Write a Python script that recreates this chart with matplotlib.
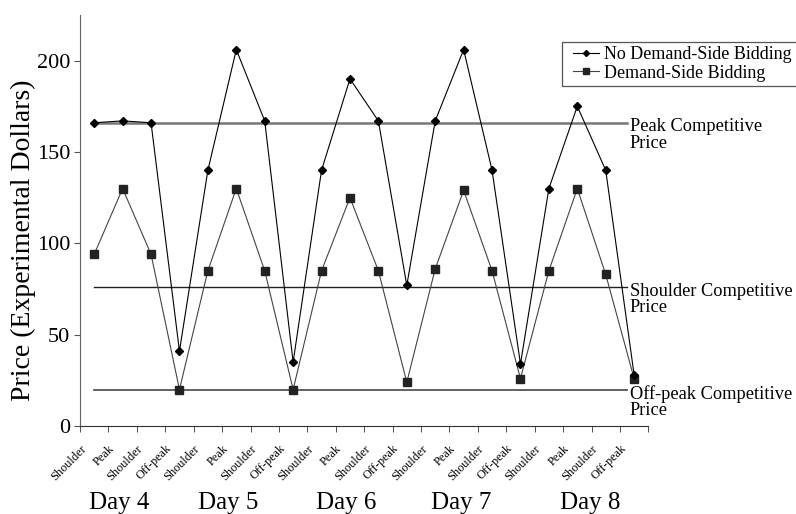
import matplotlib
matplotlib.use("Agg")
import matplotlib.pyplot as plt
import matplotlib.transforms as mtransforms
from matplotlib.patches import Rectangle

plt.rcParams["font.family"] = ["Liberation Serif", "DejaVu Serif"]

# --- Data ---
periods = ["Shoulder", "Peak", "Shoulder", "Off-peak"] * 5
days = ["Day 4", "Day 5", "Day 6", "Day 7", "Day 8"]

no_dsb = [166, 167, 166, 41,
          140, 206, 167, 35,
          140, 190, 167, 77,
          167, 206, 140, 34,
          130, 175, 140, 28]
dsb = [94, 130, 94, 20,
       85, 130, 85, 20,
       85, 125, 85, 24,
       86, 129, 85, 26,
       85, 130, 83, 26]

comp_labels = ["Peak Competitive\nPrice", "Shoulder Competitive\nPrice", "Off-peak Competitive\nPrice"]
comp_prices = [166, 76, 20]

# --- Figure ---
fig = plt.figure(figsize=(7.96, 5.14), dpi=100)
ax = fig.add_axes([0.1005, 0.171, 0.714, 0.800])

x = list(range(len(periods)))

# competitive price lines
line_end = 18.76
for lab, p, lw, col in zip(comp_labels, comp_prices, [1.8, 1.0, 1.3], ["#777777", "#222222", "#555555"]):
    ax.plot([0, line_end], [p, p], color=col, lw=lw, zorder=1)
    ax.text(line_end + 0.08, p + 2.5, lab, fontsize=13.2, va="top", ha="left",
            linespacing=0.95, clip_on=False)

ax.plot(x, no_dsb, color="black", lw=0.8, marker="D", ms=3.8, mfc="black", mec="black",
        label="No Demand-Side Bidding", zorder=3)
ax.plot(x, dsb, color="#444444", lw=0.8, marker="s", ms=5.5, mfc="#222222", mec="#222222",
        label="Demand-Side Bidding", zorder=2)

# --- Axes styling ---
ax.set_xlim(-0.5, len(periods) - 0.5)
ax.set_ylim(0, 225)
ax.set_yticks([0, 50, 100, 150, 200])
ax.tick_params(axis="y", labelsize=16, length=4, direction="out", color="#555555", pad=3)
fig.text(23 / 796, 1 - 240 / 514, "Price (Experimental Dollars)", fontsize=20,
         rotation=90, ha="center", va="center")

ax.set_xticks(x)
ax.set_xticklabels(periods, rotation=45, ha="right", va="center",
                   rotation_mode="anchor", fontsize=8.8)
ax.tick_params(axis="x", which="major", length=0, pad=15)
ax.set_xticks([i - 0.5 for i in range(len(periods) + 1)], minor=True)
ax.tick_params(axis="x", which="minor", length=4, direction="out", color="#333333")
offset = mtransforms.ScaledTranslation(-0.1, 0, fig.dpi_scale_trans)
for lbl in ax.get_xticklabels():
    lbl.set_transform(lbl.get_transform() + offset)

for s in ["top", "right"]:
    ax.spines[s].set_visible(False)
ax.spines["left"].set_color("#666666")
ax.spines["bottom"].set_color("#333333")

# day labels under the period labels
day_pos = [0.87, 4.71, 8.87, 12.9, 17.46]
trans = mtransforms.blended_transform_factory(ax.transData, fig.transFigure)
for d, xp in zip(days, day_pos):
    ax.text(xp, 0.01, d, transform=trans, fontsize=18, ha="center", va="baseline")

# legend (box runs off the right edge, as in the original)
leg = fig.legend(*ax.get_legend_handles_labels(), loc="upper left",
                 bbox_to_anchor=(573 / 796, 1 - 46 / 514), fontsize=13,
                 frameon=False, handlelength=1.45, borderpad=0, borderaxespad=0,
                 labelspacing=0.1, handletextpad=0.25, markerscale=0.8)
fig.patches.append(Rectangle((562 / 796, 1 - 86 / 514), 0.4, 44 / 514,
                             transform=fig.transFigure, fill=False,
                             edgecolor="#555555", linewidth=0.9))

fig.savefig("out.png", dpi=100)
